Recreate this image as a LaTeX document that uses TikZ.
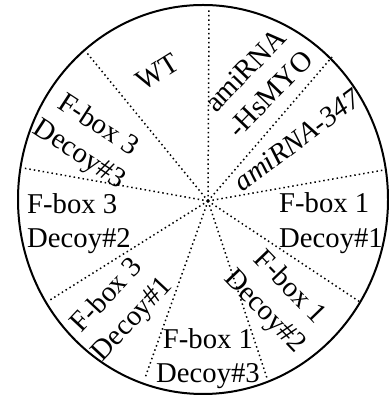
\documentclass[tikz,border=0pt]{standalone}
\usepackage{fontspec}
\setmainfont{Liberation Serif}
\begin{document}
\begin{tikzpicture}[x=1pt,y=1pt,
  rim/.style={line width=2pt},
  spoke/.style={line width=1.5pt, dash pattern=on 1.5pt off 3pt},
  lbl/.style={inner sep=0pt, font=\fontsize{28.7}{34.5}\selectfont}]
\useasboundingbox (0,0) rectangle (388,395);

% outer dish
\draw[rim] (203,195.5) ellipse [x radius=185, y radius=194.5];

% hub and spoke ends
\coordinate (hub) at (208,194);
\coordinate (e1) at (209,387);
\coordinate (e2) at (332,338);
\coordinate (e3) at (384,225);
\coordinate (e4) at (360,93);
\coordinate (e5) at (267,17);
\coordinate (e6) at (145,17);
\coordinate (e7) at (50,95);
\coordinate (e8) at (23,227);
\coordinate (e9) at (87,342);
\foreach \e in {e1,e2,e3,e4,e5,e6,e7,e8,e9}
  \draw[spoke] (hub) -- (\e);

% sector labels
\node[lbl, rotate=32] (wt) at (158,323) {WT};
\node[lbl, rotate=46, align=center] (hsmyo) at (257.7,313) {amiRNA\\-HsMYO};
\node[lbl, rotate=37] (a347) at (297,255) {\itshape amiRNA-347};
\node[lbl, anchor=west, align=left] (f1d1) at (279,172) {F-box 1\\Decoy\#1};
\node[lbl, rotate=-46, align=center] (f1d2) at (276.8,95) {F-box 1\\Decoy\#2};
\node[lbl, align=center] (f1d3) at (208,36.5) {F-box 1\\Decoy\#3};
\node[lbl, rotate=47, align=center] (f3d1) at (120.2,87) {F-box 3\\Decoy\#1};
\node[lbl, anchor=west, align=left] (f3d2) at (27,171.5) {F-box 3\\Decoy\#2};
\node[lbl, rotate=-33, align=center] (f3d3) at (88.4,254.5) {F-box 3\\Decoy\#3};
\end{tikzpicture}
\end{document}
